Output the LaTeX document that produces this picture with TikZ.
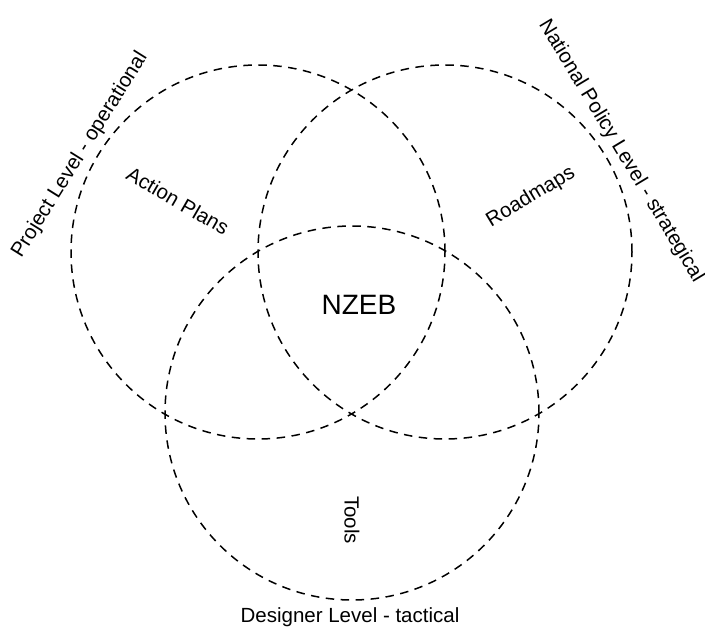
\documentclass[tikz,border=0pt]{standalone}
\usepackage{fontspec}
\setmainfont{Liberation Sans}
\begin{document}
\begin{tikzpicture}[x=1pt,y=-1pt,
  ring/.style={draw=black, line width=1.5pt, dash pattern=on 8.5pt off 6.5pt},
  lbl/.style={font=\fontsize{20.5}{24}\selectfont, inner sep=0pt, text=black},
  big/.style={font=\fontsize{28}{32}\selectfont, inner sep=0pt, text=black}]
\useasboundingbox (0,0) rectangle (705,628);
\fill[white] (0,0) rectangle (705,628);
% circles
\draw[ring] (258,252) circle[radius=187pt];
\draw[ring] (445,252) circle[radius=187pt];
\draw[ring] (352,413) circle[radius=187pt];
% labels
\node[lbl, rotate=58] (proj) at (80,155) {Project Level - operational};
\node[lbl, rotate=-59] (nat) at (621,151) {National Policy Level - strategical};
\node[lbl] (des) at (350,617) {Designer Level - tactical};
\node[lbl, rotate=-30] (ap) at (178,201) {Action Plans};
\node[lbl, rotate=31] (rm) at (531,197) {Roadmaps};
\node[lbl, rotate=-90] (tools) at (352,520) {Tools};
\node[big] (nzeb) at (359,305) {NZEB};
\end{tikzpicture}
\end{document}
